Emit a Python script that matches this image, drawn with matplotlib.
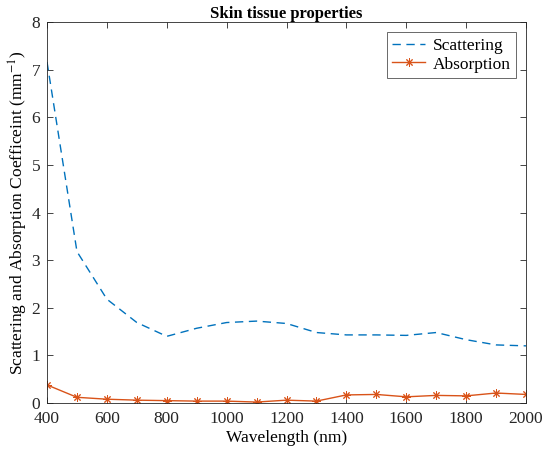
import matplotlib.pyplot as plt

plt.rcParams['font.family'] = ['Liberation Serif', 'DejaVu Serif']
plt.rcParams['mathtext.fontset'] = 'stix'

# wavelengths and coefficients
wavelength = [400, 500, 600, 700, 800, 900, 1000, 1100, 1200, 1300, 1400,
              1500, 1600, 1700, 1800, 1900, 2000]
scattering = [7.16, 3.18, 2.18, 1.69, 1.40, 1.57, 1.69, 1.72, 1.67, 1.48, 1.43,
              1.43, 1.42, 1.48, 1.33, 1.22, 1.20]
absorption = [0.38, 0.12, 0.08, 0.06, 0.05, 0.04, 0.04, 0.02, 0.06, 0.04, 0.17,
              0.18, 0.13, 0.16, 0.15, 0.21, 0.18]

fig = plt.figure(figsize=(5.43, 4.54), dpi=100)
ax = fig.add_axes([0.0866, 0.1123, 0.8821, 0.8392])

ax.plot(wavelength, scattering, '--', color=(0, 0.447, 0.741), lw=1.0,
        dashes=(6, 4), label='Scattering')
ax.plot(wavelength, absorption, '-', color=(0.85, 0.325, 0.098), lw=1.0,
        marker=(8, 2, 0), markersize=6, markeredgewidth=0.7, label='Absorption')

ax.set_xlim(400, 2000)
ax.set_ylim(0, 8)
ax.set_xticks(range(400, 2001, 200))
ax.set_yticks(range(0, 9))
ax.tick_params(direction='in', top=True, right=True, labelsize=12.5, length=4,
               width=0.6, colors='#262626')
ax.tick_params(axis='x', pad=6)
ax.tick_params(axis='y', pad=5)
for s in ax.spines.values():
    s.set_linewidth(0.6)
    s.set_color('#262626')

ax.set_title('Skin tissue properties', fontsize=12, fontweight='bold', pad=3)
ax.set_xlabel('Wavelength (nm)', fontsize=12.5, labelpad=2)
ax.set_ylabel('Scattering and Absorption Coefficeint (mm$^{-1}$)', fontsize=12.5,
              labelpad=1)
leg = ax.legend(loc='upper right', fontsize=12.5, frameon=True, fancybox=False,
                edgecolor='#262626', borderaxespad=0.6, handlelength=1.9,
                borderpad=0.3, labelspacing=0.15, handletextpad=0.4)
leg.get_frame().set_linewidth(0.6)

fig.savefig('out.png', dpi=100)
